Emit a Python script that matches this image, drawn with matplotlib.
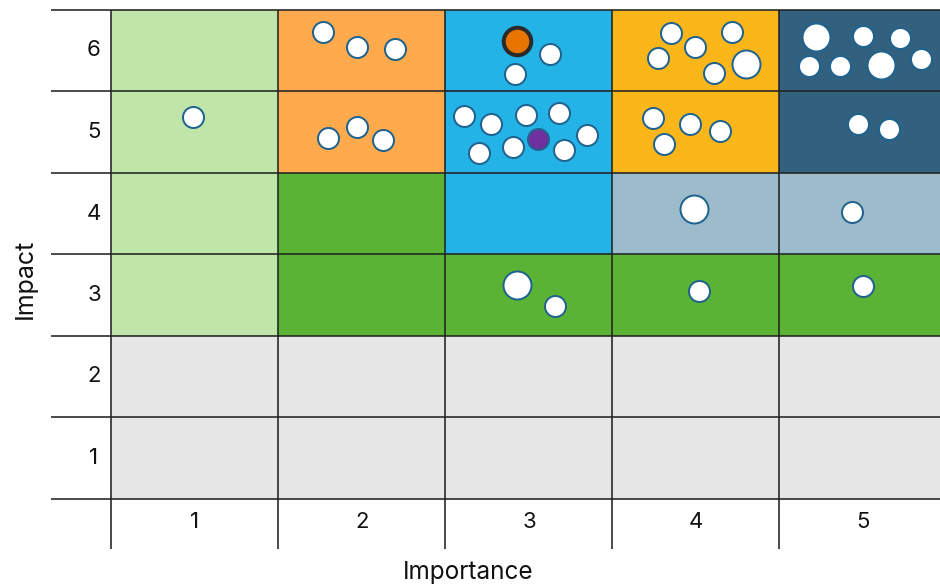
import matplotlib
matplotlib.use("Agg")
import matplotlib.pyplot as plt
from matplotlib.patches import Rectangle

plt.rcParams['font.family'] = ['Inter', 'DejaVu Sans']

# Grid categories
importance_levels = [1, 2, 3, 4, 5]
impact_levels = [1, 2, 3, 4, 5, 6]

# Zone of each cell, rows listed from impact 1 (bottom) to impact 6 (top)
zones = [
    ["low", "low", "low", "low", "low"],
    ["low", "low", "low", "low", "low"],
    ["watch", "act", "act", "act", "act"],
    ["watch", "act", "core", "review", "review"],
    ["watch", "plan", "core", "priority", "critical"],
    ["watch", "plan", "core", "priority", "critical"],
]
zone_colors = {
    "low": "#E6E6E6",
    "watch": "#BFE5A9",
    "act": "#5AB334",
    "core": "#23B3E6",
    "review": "#9CBBCB",
    "plan": "#FFAA4C",
    "priority": "#FBB619",
    "critical": "#31617F",
}

# Items: importance, impact (with spread inside each cell), weight, kind
item_importance = [
    0.986,
    1.768, 1.968, 2.196, 1.795, 1.972, 2.128,
    2.926, 3.128, 2.914,
    2.613, 2.772, 2.984, 3.178, 3.349, 2.702, 2.904, 3.052, 3.208,
    3.852, 3.996, 4.216, 3.774, 4.108, 4.299,
    3.743, 3.964, 4.144, 3.808,
    4.717, 5.000, 5.220, 4.678, 4.864, 5.108, 5.346,
    4.968, 5.158,
    3.986, 4.932,
    2.928, 3.158, 4.020, 4.998,
]
item_impact = [
    5.184,
    6.223, 6.043, 6.015, 4.923, 5.061, 4.906,
    6.120, 5.961, 5.712,
    5.200, 5.098, 5.209, 5.237, 4.960, 4.742, 4.820, 4.914, 4.775,
    6.211, 6.043, 6.227, 5.904, 5.728, 5.838,
    5.172, 5.098, 5.012, 4.849,
    6.162, 6.178, 6.150, 5.810, 5.810, 5.818, 5.896,
    5.098, 5.037,
    4.059, 4.015,
    3.126, 2.865, 3.049, 3.114,
]
item_weight = [
    1,
    1, 1, 1, 1, 1, 1,
    2, 1, 1,
    1, 1, 1, 1, 1, 1, 1, 1, 1,
    1, 1, 1, 1, 1, 2,
    1, 1, 1, 1,
    2, 1, 1, 1, 1, 2, 1,
    1, 1,
    2, 1,
    2, 1, 1, 1,
]
item_kind = ["open"] * len(item_importance)
item_kind[7] = "focus"
item_kind[17] = "selected"

W, H = 940, 584
fig = plt.figure(figsize=(W / 100, H / 100), dpi=100)
ax = fig.add_axes([0, 0, 1, 1])
col_px, row_px = 167.0, 81.5
x0_px, y0_px = 195.0, 458.0  # centre of cell (1, 1)
ax.set_xlim(1 - x0_px / col_px, 1 + (W - x0_px) / col_px)
ax.set_ylim(1 - (H - y0_px) / row_px, 1 + y0_px / row_px)
ax.axis("off")

# Cells
for r, row in enumerate(zones):
    for c, z in enumerate(row):
        ax.add_patch(Rectangle((importance_levels[c] - 0.5, impact_levels[r] - 0.5), 1, 1,
                               facecolor=zone_colors[z], edgecolor="none", zorder=1))

# Table lines, extending into the label margins
left_edge = 1 + (51 - x0_px) / col_px
bottom_edge = 1 + (y0_px - 549) / row_px
right_edge = importance_levels[-1] + 0.5
top_edge = impact_levels[-1] + 0.5
line_kw = dict(color="#222222", linewidth=1.15, zorder=2, solid_capstyle="butt")
for yv in [v - 0.5 for v in impact_levels] + [top_edge]:
    ax.plot([left_edge, right_edge + 0.2], [yv, yv], **line_kw)
for xv in [v - 0.5 for v in importance_levels] + [right_edge]:
    ax.plot([xv, xv], [bottom_edge, top_edge], **line_kw)

# Tick labels
label_x = 1 + (94 - x0_px) / col_px
label_y = 1 + (y0_px - 522) / row_px
for v in impact_levels:
    ax.text(label_x, v, str(v), ha="center", va="center", fontsize=16, color="#111111")
for v in importance_levels:
    ax.text(v, label_y, str(v), ha="center", va="center", fontsize=16, color="#111111")

fig.text(468 / W, 1 - 573 / H, "Importance", ha="center", va="center", fontsize=17.5, color="#111111")
fig.text(25 / W, 1 - 279 / H, "Impact", ha="center", va="center", rotation=90,
         fontsize=18, color="#111111")

# Items
px_to_pt = 0.72
for xi, yi, wi, ki in zip(item_importance, item_impact, item_weight, item_kind):
    if ki == "focus":
        d = 27.5 * px_to_pt
        ax.scatter([xi], [yi], s=d ** 2, facecolor="#E87400", edgecolor="#2A2A2A",
                   linewidth=4 * px_to_pt, zorder=4)
    else:
        d = (21.0 if wi == 1 else 28.0) * px_to_pt
        face = "#7030A0" if ki == "selected" else "white"
        ax.scatter([xi], [yi], s=d ** 2, facecolor=face, edgecolor="#20638F",
                   linewidth=2 * px_to_pt, zorder=3)

fig.savefig("out.png", dpi=100)
